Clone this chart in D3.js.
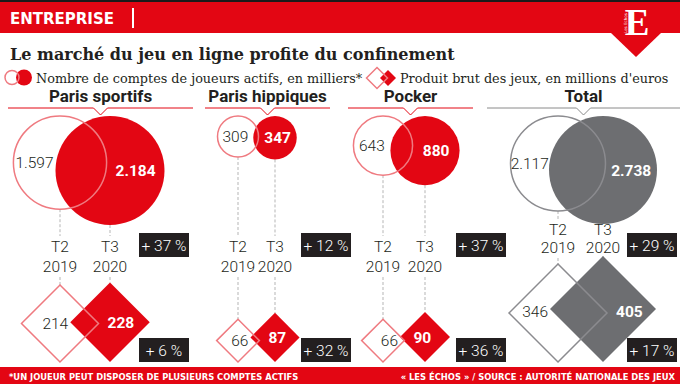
<!DOCTYPE html>
<head>
    <meta charset="utf-8">
    <style>
        body { margin: 0; background: #fff; }
        svg { display: block; }
        .num { font-family: Roboto, sans-serif; font-size: 15.5px; }
        .per { font-family: Roboto, sans-serif; font-size: 15.5px; font-weight: 300; fill: #231f20; }
        .head { font-family: Roboto, sans-serif; font-size: 17px; font-weight: 700; fill: #231f20; }
        .dash { stroke: #b5b5b5; stroke-width: 1; stroke-dasharray: 3,2; }
        .foot { font-family: 'Liberation Sans Narrow', 'DejaVu Sans Condensed', sans-serif; font-size: 9.3px; font-weight: 700; fill: #fff; }
    </style>
</head>
<body>
    <svg width="680" height="384"></svg>
    <script src="https://d3js.org/d3.v7.min.js"></script>
    <script>

    var panels = ["Paris sportifs", "Paris hippiques", "Pocker", "Total"];
    var periods = [["T2", "2019"], ["T3", "2020"]];
    var comptes2019 = [1597, 309, 643, 2117];
    var comptes2020 = [2184, 347, 880, 2738];
    var pbj2019 = [214, 66, 66, 346];
    var pbj2020 = [228, 87, 90, 405];
    var comptesVar = ["+ 37 %", "+ 12 %", "+ 37 %", "+ 29 %"];
    var pbjVar = ["+ 6 %", "+ 32 %", "+ 36 %", "+ 17 %"];

    var RED = "#e30613", PINK = "#ef7a80", DARK = "#231f20", GREY = "#6d6e71", GREYLINE = "#8b8b8f";

    // layout of each panel (header span, the two columns, the variation boxes)
    var layout = [
        { x0: 8,   x1: 193, c: [60, 110],  box: 139 },
        { x0: 205, x1: 330, c: [238, 275], box: 301 },
        { x0: 348, x1: 473, c: [383, 425], box: 456 },
        { x0: 487, x1: 680, c: [558, 603], box: 627 }
    ];

    var svg = d3.select("svg");
    var fmt = d3.formatLocale({ decimal: ",", thousands: ".", grouping: [3], currency: ["", " €"] }).format(",");

    // sizes: circle area ~ accounts, diamond area ~ revenue
    var rCat = d3.scaleSqrt().domain([0, d3.max(comptes2020.slice(0, 3))]).range([0, 54.5]);
    var rTot = d3.scaleSqrt().domain([0, comptes2020[3]]).range([0, 54]);
    var dSize = d3.scaleSqrt().domain([0, d3.max(pbj2020)]).range([0, 53]);

    var circleTop = 116, diamondBottom = 362;

    // header band
    svg.append("rect").attr("x", 0).attr("y", 0).attr("width", 680).attr("height", 2).attr("fill", "#1a1a1a");
    svg.append("rect").attr("x", 0).attr("y", 2).attr("width", 680).attr("height", 31).attr("fill", RED);
    svg.append("text").attr("x", 10).attr("y", 24)
        .style("font-family", "'DejaVu Sans', sans-serif").style("font-size", "15px").style("font-weight", 700)
        .attr("fill", "#fff").text("ENTREPRISE");
    svg.append("rect").attr("x", 132).attr("y", 8).attr("width", 2).attr("height", 20).attr("fill", "#fff");

    // logo
    svg.append("path").attr("d", "M611,33L636,57L661,33Z").attr("fill", RED);
    svg.append("text").attr("x", 637).attr("y", 35).attr("text-anchor", "middle")
        .style("font-family", "'Liberation Serif', serif").style("font-size", "37px").style("font-weight", 700)
        .attr("fill", "#fff").text("E");
    svg.append("text").attr("transform", "translate(627,33) rotate(-90)")
        .style("font-family", "'DejaVu Sans', sans-serif").style("font-size", "4px")
        .attr("fill", "#fff").text("Les Echos");

    // title
    svg.append("text").attr("x", 10).attr("y", 60)
        .style("font-family", "'DejaVu Serif', serif").style("font-size", "16px").style("font-weight", 700)
        .attr("fill", DARK).text("Le marché du jeu en ligne profite du confinement");

    // legend
    var leg = svg.append("g");
    leg.append("circle").attr("cx", 24).attr("cy", 77.5).attr("r", 8).attr("fill", RED);
    leg.append("circle").attr("cx", 12).attr("cy", 77.5).attr("r", 7).attr("fill", "none").attr("stroke", PINK).attr("stroke-width", 1.5);
    leg.append("text").attr("x", 36).attr("y", 83)
        .style("font-family", "'DejaVu Serif', serif").style("font-size", "12.8px").attr("fill", DARK)
        .text("Nombre de comptes de joueurs actifs, en milliers*");
    leg.append("path").attr("d", "M388,70L396,78L388,86L380,78Z").attr("fill", RED);
    leg.append("path").attr("d", "M377,67.5L387.5,78L377,88.5L366.5,78Z").attr("fill", "none").attr("stroke", PINK).attr("stroke-width", 1.5);
    leg.append("text").attr("x", 400).attr("y", 83)
        .style("font-family", "'DejaVu Serif', serif").style("font-size", "12.8px").attr("fill", DARK)
        .text("Produit brut des jeux, en millions d'euros");

    function diamond(cx, cy, h) {
        return "M" + cx + "," + (cy - h) + "L" + (cx + h) + "," + cy + "L" + cx + "," + (cy + h) + "L" + (cx - h) + "," + cy + "Z";
    }

    panels.forEach(function(name, i) {
        var L = layout[i], total = i === 3;
        var fill = total ? GREY : RED, line = total ? GREYLINE : PINK;
        var g = svg.append("g");
        var mid = (L.x0 + L.x1) / 2;

        g.append("text").attr("class", "head").attr("x", mid).attr("y", 102).attr("text-anchor", "middle").text(name);
        g.append("path")
            .attr("d", "M" + L.x0 + ",108H" + (mid - 7) + "L" + mid + ",115L" + (mid + 7) + ",108H" + L.x1)
            .attr("fill", "none").attr("stroke", total ? "#8a8a8a" : RED).attr("stroke-width", 1);

        var rs = total ? rTot : rCat;
        var r = [rs(comptes2019[i]), rs(comptes2020[i])];
        var cy = [circleTop + r[0], circleTop + r[1]];
        var h = [dSize(pbj2019[i]), dSize(pbj2020[i])];
        var dy = [diamondBottom - h[0], diamondBottom - h[1]];

        var labTop = total ? 221 : 236, labBot = total ? 258 : 277;

        // dashed leader lines
        [0, 1].forEach(function(k) {
            g.append("line").attr("class", "dash").attr("x1", L.c[k]).attr("x2", L.c[k])
                .attr("y1", cy[k] + r[k]).attr("y2", labTop);
            g.append("line").attr("class", "dash").attr("x1", L.c[k]).attr("x2", L.c[k])
                .attr("y1", labBot).attr("y2", dy[k] - h[k]);
        });

        // circles
        g.append("circle").attr("cx", L.c[1]).attr("cy", cy[1]).attr("r", r[1]).attr("fill", fill);
        g.append("circle").attr("cx", L.c[0]).attr("cy", cy[0]).attr("r", r[0])
            .attr("fill", "none").attr("stroke", line).attr("stroke-width", 1.5);

        var lx0 = ((L.c[0] - r[0]) + (L.c[1] - r[1])) / 2;
        var lx1 = ((L.c[0] + r[0]) + (L.c[1] + r[1])) / 2;
        g.append("text").attr("class", "num").attr("x", lx0).attr("y", cy[0]).attr("dy", "0.36em")
            .attr("text-anchor", "middle").attr("fill", DARK).style("font-weight", 300).text(fmt(comptes2019[i]));
        g.append("text").attr("class", "num").attr("x", lx1).attr("y", cy[1]).attr("dy", "0.36em")
            .attr("text-anchor", "middle").attr("fill", "#fff").style("font-weight", 700).text(fmt(comptes2020[i]));

        // period labels
        periods.forEach(function(p, k) {
            var t = g.append("text").attr("class", "per").attr("text-anchor", "middle");
            t.append("tspan").attr("x", L.c[k]).attr("y", total ? 235 : 252).text(p[0]);
            t.append("tspan").attr("x", L.c[k]).attr("y", total ? 253 : 272).text(p[1]);
        });

        // diamonds
        g.append("path").attr("d", diamond(L.c[1], dy[1], h[1])).attr("fill", fill);
        g.append("path").attr("d", diamond(L.c[0], dy[0], h[0]))
            .attr("fill", "none").attr("stroke", line).attr("stroke-width", 1.5);

        // labels sit just outside the other diamond
        var ly0 = total ? (dy[0] + dy[1]) / 2 : dy[0];
        var ly1 = total ? (dy[0] + dy[1]) / 2 : dy[1];
        g.append("text").attr("class", "num").attr("x", L.c[1] - h[1] - 2).attr("y", ly0).attr("dy", "0.36em")
            .attr("text-anchor", "end").attr("fill", DARK).style("font-weight", 300).text(fmt(pbj2019[i]));
        g.append("text").attr("class", "num").attr("x", L.c[0] + h[0] + 9).attr("y", ly1).attr("dy", "0.36em")
            .attr("text-anchor", "start").attr("fill", "#fff").style("font-weight", 700).text(fmt(pbj2020[i]));

        // variation boxes
        [[233, comptesVar[i]], [338, pbjVar[i]]].forEach(function(b) {
            g.append("rect").attr("x", L.box).attr("y", b[0]).attr("width", 50).attr("height", 24).attr("fill", DARK);
            g.append("text").attr("class", "num").attr("x", L.box + 25).attr("y", b[0] + 12).attr("dy", "0.36em")
                .attr("text-anchor", "middle").attr("fill", "#fff").style("font-weight", 300).text(b[1]);
        });
    });

    // footer
    svg.append("rect").attr("x", 0).attr("y", 367).attr("width", 680).attr("height", 17).attr("fill", RED);
    svg.append("text").attr("class", "foot").attr("x", 9).attr("y", 379.5)
        .text("*UN JOUEUR PEUT DISPOSER DE PLUSIEURS COMPTES ACTIFS");
    svg.append("text").attr("class", "foot").attr("x", 675).attr("y", 379.5).attr("text-anchor", "end")
        .text("« LES ÉCHOS » / SOURCE : AUTORITÉ NATIONALE DES JEUX");

    </script>
</body>
